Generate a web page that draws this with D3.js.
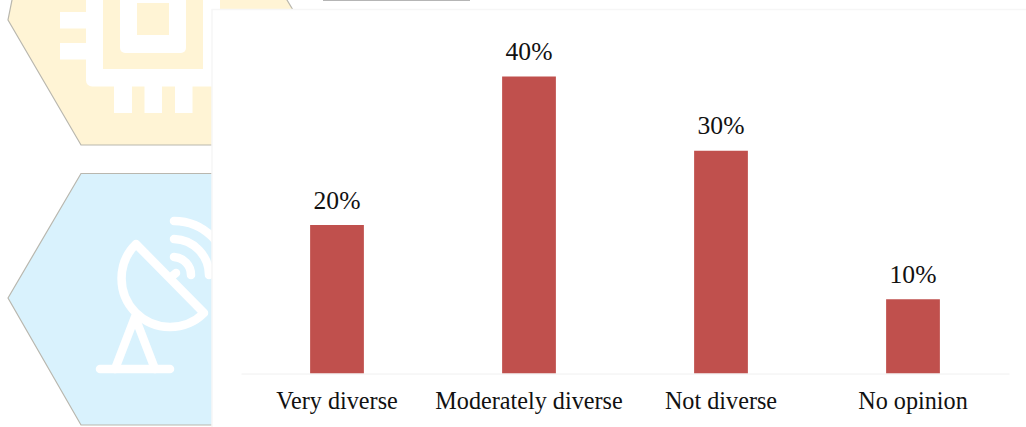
<!DOCTYPE html>
<html>
<head>
<meta charset="utf-8">
<script src="https://cdn.jsdelivr.net/npm/d3@7/dist/d3.min.js"></script>
<style>
html, body { margin: 0; padding: 0; background: #fff; }
svg { display: block; }
text { font-family: "Liberation Serif", serif; fill: #111; }
</style>
</head>
<body>
<svg id="chart" width="1026" height="427"></svg>
<script>
// Survey answers and their shares
const categories = ["Very diverse", "Moderately diverse", "Not diverse", "No opinion"];
const shares = [20, 40, 30, 10];

const svg = d3.select("#chart");
const line = d3.line();

// Backdrop: two hexagonal tiles with white line icons
const backdrop = svg.append("g");
const tileEdge = "#b9b7ae";
const sand = "#fff4d5";

backdrop.append("path")
  .attr("d", line([[8, 20], [81, 145], [330, 145], [293, 10], [281, -10], [14, -10]]) + "Z")
  .attr("fill", sand).attr("stroke", tileEdge).attr("stroke-width", 1.2);
backdrop.append("path")
  .attr("d", line([[8, 298], [81, 173.5], [330, 173.5], [330, 425], [81, 425]]) + "Z")
  .attr("fill", "#d9f2fd").attr("stroke", tileEdge).attr("stroke-width", 1.2);

// Chip icon
const chip = backdrop.append("g").attr("fill", "#fff");
chip.append("rect").attr("x", 86).attr("y", -30).attr("width", 134).attr("height", 116.5).attr("rx", 6);
chip.append("rect").attr("x", 103).attr("y", -30).attr("width", 100).attr("height", 99).attr("fill", sand);
chip.append("rect").attr("x", 120).attr("y", -30).attr("width", 66).attr("height", 83).attr("rx", 5);
chip.append("rect").attr("x", 137).attr("y", 3).attr("width", 32).attr("height", 32).attr("fill", sand);
[[60, 12, 26, 16.5], [60, 43, 26, 16.5], [114, 86, 18, 27], [144.5, 86, 17.5, 27], [175, 86, 17.5, 27]]
  .forEach(([x, y, w, h]) => chip.append("rect").attr("x", x).attr("y", y).attr("width", w).attr("height", h));

// Satellite dish icon
const dish = backdrop.append("g")
  .attr("fill", "none").attr("stroke", "#fff").attr("stroke-width", 8.5)
  .attr("stroke-linecap", "round").attr("stroke-linejoin", "round");
dish.append("path").attr("d", "M100,369H170");
dish.append("path").attr("d", "M115,369L135,317L155,369");
dish.append("path").attr("d", "M136,244L204,313A47,47 0 0 1 136,244Z");
dish.append("path").attr("d", "M171,277L176,273");
dish.append("path").attr("d", "M174,257A18,18 0 0 1 191,275");
dish.append("path").attr("d", "M174,239A36,36 0 0 1 209,275");
dish.append("path").attr("d", "M174,221A54,54 0 0 1 228,275");

// Short rule along the top edge
backdrop.append("rect").attr("x", 323).attr("y", 0).attr("width", 147).attr("height", 1).attr("fill", "#b5b5b5");

// Chart panel
svg.append("rect")
  .attr("x", 212).attr("y", 9.5).attr("width", 830).attr("height", 430)
  .attr("fill", "#fff").attr("stroke", "#f6f6f6").attr("stroke-width", 1.5);

// Scales
const x = d3.scaleBand().domain(categories).range([241, 1009]).paddingInner(0.72).paddingOuter(0.36);
const y = d3.scaleLinear().domain([0, 40]).range([373.5, 76.5]);

// Bars
svg.append("g").selectAll("rect").data(categories).join("rect")
  .attr("x", d => x(d))
  .attr("y", (d, i) => y(shares[i]))
  .attr("width", x.bandwidth())
  .attr("height", (d, i) => y(0) - y(shares[i]))
  .attr("fill", "#c0504d");

// Baseline and category labels
const axis = svg.append("g")
  .attr("transform", `translate(0,${y(0)})`)
  .call(d3.axisBottom(x).tickSize(0).tickPadding(18.5));
axis.select(".domain").attr("stroke", "#f0f0f0");
axis.selectAll("text")
  .style("font-family", '"Liberation Serif", serif')
  .style("font-size", "24.2px")
  .attr("fill", "#111");

// Value labels
svg.append("g").selectAll("text").data(categories).join("text")
  .attr("x", d => x(d) + x.bandwidth() / 2)
  .attr("y", (d, i) => y(shares[i]) - 16.5)
  .attr("text-anchor", "middle")
  .style("font-size", "25.6px")
  .text((d, i) => shares[i] + "%");
</script>
</body>
</html>
